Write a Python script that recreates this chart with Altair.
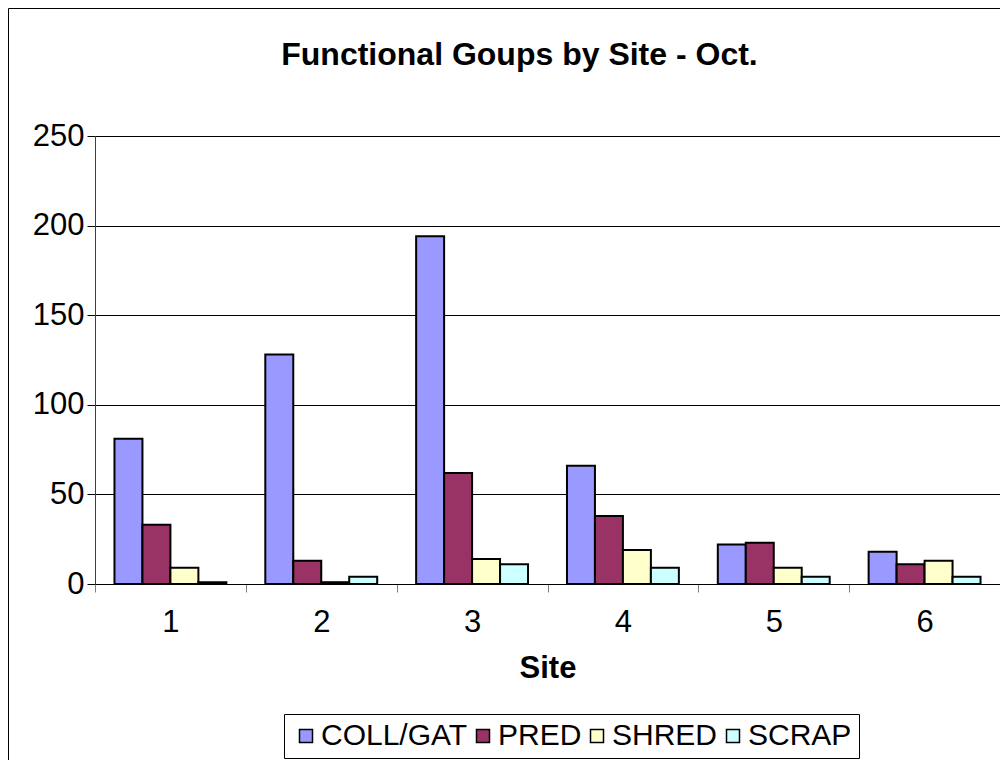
import altair as alt
import pandas as pd

sites = ["1", "2", "3", "4", "5", "6"]
groups = ["COLL/GAT", "PRED", "SHRED", "SCRAP"]
coll_gat = [81, 128, 194, 66, 22, 18]
pred = [33, 13, 62, 38, 23, 11]
shred = [9, 1, 14, 19, 9, 13]
scrap = [1, 4, 11, 9, 4, 4]
colors = ["#9999FF", "#993366", "#FFFFCC", "#CCFFFF"]

series = [coll_gat, pred, shred, scrap]
rows = []
for g, vals in zip(groups, series):
    for s, v in zip(sites, vals):
        rows.append({"Site": s, "Group": g, "Value": v})
df = pd.DataFrame(rows)

FONT = "Liberation Sans"

bars = alt.Chart(df).mark_bar(stroke="black", strokeWidth=2).encode(
    x=alt.X("Site:N", sort=sites,
            scale=alt.Scale(paddingInner=0, paddingOuter=0),
            axis=alt.Axis(title="Site", labelAngle=0, tickBand="extent",
                          labelFontSize=31, labelFont=FONT, labelColor="black",
                          titleFontSize=31, titleFont=FONT, titleFontWeight="bold",
                          titleColor="black", titlePadding=16,
                          tickSize=8, tickColor="#808080", domainColor="black",
                          labelPadding=15, grid=False)),
    xOffset=alt.XOffset("Group:N", sort=groups,
                        scale=alt.Scale(paddingInner=0, paddingOuter=0.696)),
    y=alt.Y("Value:Q", scale=alt.Scale(domain=[0, 250]),
            axis=alt.Axis(title=None, values=[0, 50, 100, 150, 200, 250],
                          labelFontSize=31, labelFont=FONT, labelColor="black",
                          tickSize=8, tickColor="black", domainColor="#404040",
                          labelPadding=3, gridColor="black", gridWidth=1,
                          grid=True)),
    color=alt.Color("Group:N", sort=groups,
                    scale=alt.Scale(domain=groups, range=colors),
                    legend=alt.Legend(title=None, orient="none", legendX=189, legendY=578,
                                      direction="horizontal", columns=4,
                                      symbolType="square", symbolSize=169,
                                      symbolStrokeColor="black", symbolStrokeWidth=1.5,
                                      symbolOpacity=1,
                                      labelFontSize=30, labelFont=FONT, labelColor="black",
                                      labelOffset=0, columnPadding=0, labelLimit=400,
                                      padding=7, strokeColor="black")),
)

frame = alt.Chart(pd.DataFrame({"a": [0]})).mark_rect(
    fill=None, stroke="black", strokeWidth=1
).encode(
    x=alt.value(-86.5), x2=alt.value(1200),
    y=alt.value(-127.5), y2=alt.value(900)
)

chart = alt.layer(frame, bars).properties(
    width=905, height=448,
    padding={"left": 87, "top": 128, "right": 0, "bottom": 176},
    autosize=alt.AutoSizeParams(type="none"),
    title=alt.TitleParams("Functional Goups by Site - Oct.", fontSize=32, font=FONT,
                          fontWeight="bold", color="black", anchor="middle",
                          frame="group", dx=-28, offset=-89, baseline="alphabetic"),
).configure_view(stroke="#808080", strokeWidth=1).configure(background="white")

chart.save("out.html", embed_options={"renderer": "svg", "actions": False})
